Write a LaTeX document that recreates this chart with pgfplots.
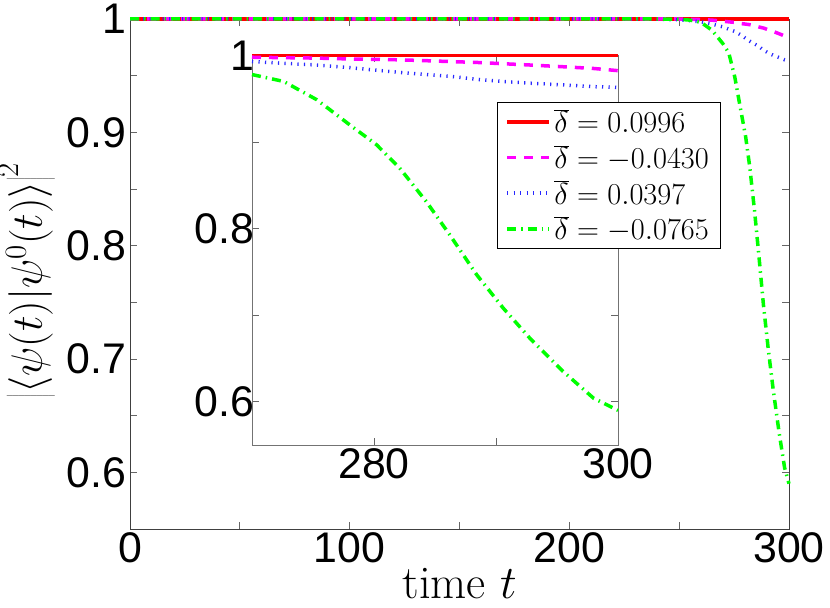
\RequirePackage{fix-cm}
\documentclass[border=0pt]{standalone}
\usepackage{fontspec}
\usepackage{pgfplots}
\pgfplotsset{compat=1.18}
\newfontfamily\arial{Liberation Sans}
\definecolor{mgreen}{RGB}{0,255,0}
\definecolor{mmag}{RGB}{255,0,255}
\definecolor{mblue}{RGB}{40,40,255}

% fidelity curves
\pgfplotstableread{
t     red  mag     blue    green
0     1    1       1       1
230   1    1       1       1
240   1    1       0.9998  1
250   1    1       0.9993  0.9998
255   1    0.9998  0.9985  0.999
260   1    0.9995  0.9975  0.997
265   1    0.999   0.9955  0.990
270   1    0.998   0.993   0.978
272.6 1    0.9975  0.991   0.970
275.3 1    0.997   0.989   0.949
278   1    0.996   0.986   0.920
280.2 1    0.9955  0.983   0.897
282.1 1    0.995   0.9805  0.870
284.3 1    0.994   0.978   0.831
286.2 1    0.993   0.976   0.793
288.4 1    0.992   0.9725  0.747
290.6 1    0.9905  0.970   0.708
292.8 1    0.989   0.968   0.673
295.5 1    0.987   0.966   0.635
298   1    0.985   0.964   0.604
300   1    0.9825  0.963   0.590
}\fid

\pgfplotsset{
  mline/.style={line width=3.5bp},
  every axis/.append style={
    scale only axis,
    clip=false,
    tick align=inside,
    xtick pos=both, ytick pos=both,
    major tick length=7bp,
    tick style={black!60, line width=0.7bp},
    axis line style={line width=0.8bp},
    tick label style={font=\arial\fontsize{43}{43}\selectfont},
    /pgf/number format/assume math mode=true,
  },
}

\begin{document}
\begin{tikzpicture}
\path[use as bounding box] (0,0) rectangle (830bp,608bp);

\begin{axis}[
  at={(130bp,79bp)}, anchor=south west,
  width=659bp, height=510bp,
  xmin=0, xmax=300, ymin=0.55, ymax=1,
  axis line style={black!75},
  xtick={0,50,100,150,200,250,300},
  xticklabels={0,,100,,200,,300},
  ytick={0.6,0.65,0.7,0.75,0.8,0.85,0.9,0.95,1},
  yticklabels={0.6,,0.7,,0.8,,0.9,,1},
  xlabel={time $t$},
  xlabel style={at={(axis description cs:0.5,0)}, anchor=base, yshift=-69bp,
    font=\fontsize{47}{47}\selectfont},
  ylabel={$\left|\left\langle \psi(t)|\psi^0(t)\right\rangle\right|^2$},
  ylabel style={at={(axis description cs:-0.1138,0.488)}, anchor=south,
    inner sep=0pt, font=\fontsize{44}{44}\selectfont},
]
\addplot[mline, red] table[x=t, y=red] {\fid};
\addplot[mline, mmag, dash pattern=on 9bp off 8bp] table[x=t, y=mag] {\fid};
\addplot[mline, mblue, dash pattern=on 1.2bp off 5.3bp] table[x=t, y=blue] {\fid};
\addplot[mline, mgreen, dash pattern=on 9bp off 5bp on 1.5bp off 5bp] table[x=t, y=green] {\fid};
\end{axis}

\begin{axis}[
  at={(252bp,163bp)}, anchor=south west,
  width=366bp, height=389.5bp,
  xmin=270, xmax=300, ymin=0.55, ymax=1,
  restrict x to domain=270:300,
  axis line style={black!55},
  axis background/.style={fill=white},
  xtick={280,290,300},
  xticklabels={280,,300},
  ytick={0.6,0.7,0.8,0.9,1},
  yticklabels={0.6,,0.8,,1},
  yticklabel style={xshift=6bp},
  legend style={at={(0.669,0.881)}, anchor=north west,
    draw=black, line width=0.8bp, fill=white,
    font=\fontsize{30.5}{30.5}\selectfont,
    inner xsep=8bp, inner ysep=2bp, row sep=0bp,
    nodes={inner ysep=5.5bp, inner xsep=3.5bp},
    cells={anchor=west}},
  legend image code/.code={\draw[#1] (0bp,0bp) -- (42bp,0bp);},
]
\addplot[mline, red] table[x=t, y=red] {\fid};
\addlegendentry{$\overline{\delta}=0.0996$}
\addplot[mline, mmag, dash pattern=on 9bp off 8bp] table[x=t, y=mag] {\fid};
\addlegendentry{$\overline{\delta}=-0.0430$}
\addplot[mline, mblue, dash pattern=on 1.2bp off 5.3bp] table[x=t, y=blue] {\fid};
\addlegendentry{$\overline{\delta}=0.0397$}
\addplot[mline, mgreen, dash pattern=on 9bp off 5bp on 1.5bp off 5bp] table[x=t, y=green] {\fid};
\addlegendentry{$\overline{\delta}=-0.0765$}
\end{axis}
\end{tikzpicture}
\end{document}
